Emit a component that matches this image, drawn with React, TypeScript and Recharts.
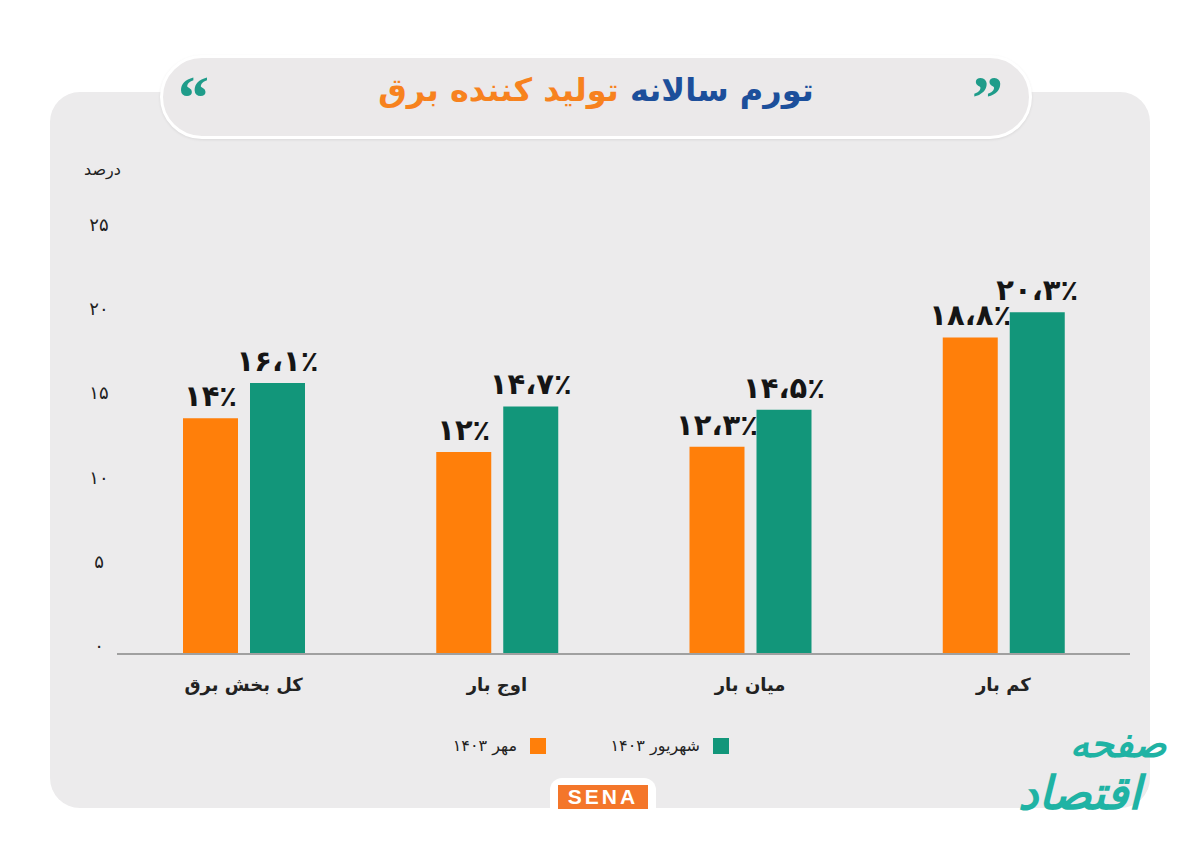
import React from 'react';
import { BarChart, Bar, XAxis, YAxis, LabelList } from 'recharts';

// داده‌ها از روی تصویر
const categories = ['کل بخش برق', 'اوج بار', 'میان بار', 'کم بار'];
const mehrValues = [14, 12, 12.3, 18.8];
const shahrivarValues = [16.1, 14.7, 14.5, 20.3];
const yTicks = [0, 5, 10, 15, 20, 25];
const seriesNames = { mehr: 'مهر ۱۴۰۳', shahrivar: 'شهریور ۱۴۰۳' };

const chartData = categories.map((name, i) => ({
  name,
  mehr: mehrValues[i],
  shahrivar: shahrivarValues[i],
}));

const ORANGE = '#ff7f0a';
const GREEN = '#12967a';
const FONT = '"DejaVu Sans", sans-serif';

const legendItems = [
  { name: seriesNames.mehr, color: ORANGE, right: 654 },
  { name: seriesNames.shahrivar, color: GREEN, right: 471 },
];

const faDigits = '۰۱۲۳۴۵۶۷۸۹';
const toFa = (v: number | string) =>
  String(v)
    .replace(/\d/g, (d) => faDigits[Number(d)])
    .replace('.', '،');

const YTick = (props: any) => {
  const { x, y, payload } = props;
  return (
    <text x={x - 10} y={y - 7} textAnchor="middle" dominantBaseline="middle" fontSize={18} fill="#222" fontFamily={FONT}>
      {toFa(payload.value)}
    </text>
  );
};

const XTick = (props: any) => {
  const { x, y, payload } = props;
  return (
    <text x={x} y={y + 24} textAnchor="middle" dominantBaseline="middle" fontSize={18} fontWeight="bold" fill="#222" fontFamily={FONT}>
      {payload.value}
    </text>
  );
};

const ValueLabel = (props: any) => {
  const { x, y, width, value } = props;
  return (
    <text x={x + width / 2} y={y - 12} textAnchor="middle" fontSize={29} fontWeight="bold" fill="#151515" fontFamily={FONT}>
      {toFa(value) + '٪'}
    </text>
  );
};

export default function App() {
  return (
    <div style={{ position: 'absolute', left: 0, top: 0, width: 1200, height: 848, background: '#ffffff', overflow: 'hidden', fontFamily: FONT }}>
      {/* کارت خاکستری */}
      <div style={{ position: 'absolute', left: 50, top: 92, width: 1100, height: 716, background: '#ecebec', borderRadius: 30 }} />

      {/* عنوان */}
      <div
        style={{
          position: 'absolute', left: 160, top: 55, width: 866, height: 78, background: '#ebe9ea',
          border: '3px solid #ffffff', borderRadius: 42, boxShadow: '0 1px 3px rgba(0,0,0,0.08)',
        }}
      />
      <div style={{ position: 'absolute', left: 160, top: 71, width: 872, textAlign: 'center', direction: 'rtl', fontSize: 32, fontWeight: 'bold' }}>
        <span style={{ color: '#1c4f9b' }}>تورم سالانه</span>{' '}
        <span style={{ color: '#f7821e' }}>تولید کننده برق</span>
      </div>
      <div style={{ position: 'absolute', left: 178, top: 62, fontSize: 62, fontWeight: 'bold', color: '#1f9c8a', fontFamily: '"Liberation Serif", serif' }}>“</div>
      <div style={{ position: 'absolute', left: 972, top: 62, fontSize: 62, fontWeight: 'bold', color: '#1f9c8a', fontFamily: '"Liberation Serif", serif' }}>”</div>

      <div style={{ position: 'absolute', left: 84, top: 160, fontSize: 16, color: '#222', direction: 'rtl' }}>درصد</div>

      <div style={{ position: 'absolute', left: 0, top: 0 }}>
        <BarChart
          width={1200}
          height={848}
          data={chartData}
          margin={{ top: 233, right: 70, bottom: 154, left: 77 }}
          barSize={55}
          barGap={12}
        >
          <XAxis
            dataKey="name"
            height={40}
            tickLine={false}
            axisLine={{ stroke: '#a0a0a0', strokeWidth: 2 }}
            tick={<XTick />}
          />
          <YAxis
            width={40}
            domain={[0, 25]}
            ticks={yTicks}
            axisLine={false}
            tickLine={false}
            tick={<YTick />}
          />
          <Bar dataKey="mehr" name={seriesNames.mehr} fill={ORANGE} isAnimationActive={false}>
            <LabelList dataKey="mehr" content={<ValueLabel />} />
          </Bar>
          <Bar dataKey="shahrivar" name={seriesNames.shahrivar} fill={GREEN} isAnimationActive={false}>
            <LabelList dataKey="shahrivar" content={<ValueLabel />} />
          </Bar>
        </BarChart>
      </div>

      {/* راهنما */}
      {legendItems.map((it) => (
        <div
          key={it.name}
          style={{ position: 'absolute', right: it.right, top: 736, display: 'flex', alignItems: 'center', gap: 13, fontSize: 16, color: '#222' }}
        >
          <span style={{ direction: 'rtl' }}>{it.name}</span>
          <span style={{ width: 16, height: 16, background: it.color, display: 'inline-block' }} />
        </div>
      ))}

      {/* لوگوی سنا */}
      <div style={{ position: 'absolute', left: 550, top: 778, width: 106, height: 44, background: '#ffffff', borderRadius: 12 }} />
      <div
        style={{
          position: 'absolute', left: 558, top: 785, width: 90, height: 24, background: '#f4762a', color: '#fff',
          fontFamily: '"Liberation Sans", Arial, sans-serif', fontWeight: 'bold', fontSize: 21, lineHeight: '24px',
          textAlign: 'center', letterSpacing: 3,
        }}
      >
        SENA
      </div>

      {/* لوگوی صفحه اقتصاد */}
      <div style={{ position: 'absolute', left: 1070, top: 722, fontSize: 38, fontWeight: 'bold', color: '#1fb3a4', direction: 'rtl', fontStyle: 'italic' }}>
        صفحه
      </div>
      <div style={{ position: 'absolute', left: 1018, top: 766, fontSize: 46, fontWeight: 'bold', color: '#1fb3a4', direction: 'rtl', fontStyle: 'italic' }}>
        اقتصاد
      </div>
    </div>
  );
}
